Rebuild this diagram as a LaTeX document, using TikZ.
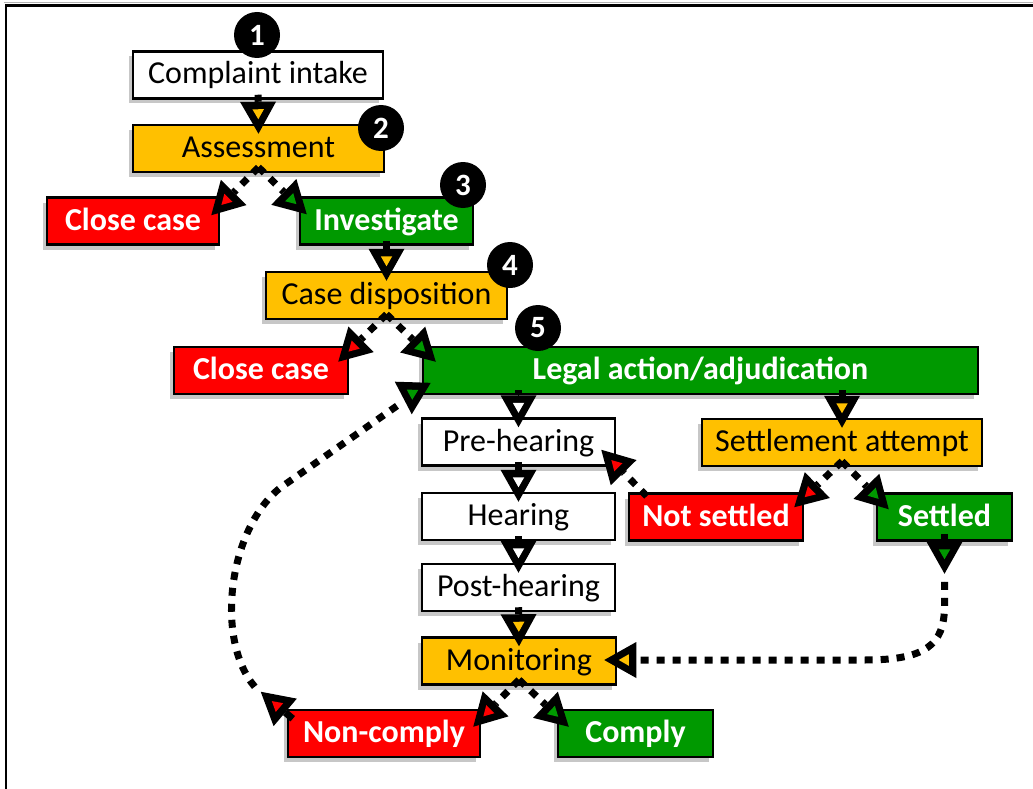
\documentclass[tikz,border=0pt]{standalone}
\usepackage{fontspec}
\setmainfont{Carlito}
\usetikzlibrary{arrows.meta,calc,shadows}
\definecolor{cyel}{HTML}{FFC000}
\definecolor{cred}{HTML}{FF0000}
\definecolor{cgrn}{HTML}{009900}
\begin{document}
\begin{tikzpicture}[x=1pt,y=-1pt,
  box/.style={draw=black, line width=2.5pt, inner sep=0pt, minimum height=47pt,
    text height=23pt, text depth=5pt, font=\fontsize{32}{36}\selectfont,
    drop shadow={shadow xshift=-4pt, shadow yshift=-5pt, fill=black!22, opacity=1}},
  wbox/.style={box, fill=white, text=black},
  ybox/.style={box, fill=cyel, text=black},
  rbox/.style={box, fill=cred, text=white, font=\fontsize{32}{36}\selectfont\bfseries},
  gbox/.style={box, fill=cgrn, text=white, font=\fontsize{32}{36}\selectfont\bfseries},
  numc/.style={circle, fill=black, minimum size=46pt, inner sep=0pt, text=white,
    font=\fontsize{31}{34}\selectfont\bfseries},
  con/.style={line width=7pt, draw=black},
  dots/.style={con, dash pattern=on 8pt off 8pt},
  tipin/.style={postaction={draw=black, line width=0.05pt,
      -{Triangle[length=10pt, width=11.5pt, line width=0pt, fill=#1]}, shorten >=14.5pt}},
  sarr/.style={con, -{Triangle[length=32pt, width=36pt, line width=0pt, fill=black]}, tipin=#1},
  darr/.style={dots, -{Triangle[length=32pt, width=36pt, line width=0pt, fill=black]}, tipin=#1},
]
\useasboundingbox (0,0) rectangle (1033,789);
\clip (0,0) rectangle (1033,789);
% frame
\draw[black!30, line width=1.2pt] (3.5,2.5) -- (1040,2.5);
\draw[black, line width=2.2pt] (6,800) -- (6,5.5) -- (1040,5.5);

% boxes
\node[wbox, minimum width=250pt] (intake) at (258,75) {Complaint intake};
\node[ybox, minimum width=251pt] (assess) at (258.5,148.5) {Assessment};
\node[rbox, minimum width=172pt] (close1) at (133,221) {Close case};
\node[gbox, minimum width=173pt] (invest) at (386.5,221) {Investigate};
\node[ybox, minimum width=241pt] (dispo) at (386.5,295.5) {Case disposition};
\node[rbox, minimum width=174pt] (close2) at (261,370.5) {Close case};
\node[gbox, minimum width=555pt] (legal) at (700.5,370.5) {Legal action/adjudication};
\node[wbox, minimum width=193pt] (pre) at (518.5,442) {Pre-hearing};
\node[wbox, minimum width=193pt] (hear) at (518.5,516.5) {Hearing};
\node[wbox, minimum width=193pt] (post) at (518.5,587.5) {Post-hearing};
\node[ybox, minimum width=194pt] (mon) at (519,661) {Monitoring};
\node[rbox, minimum width=192pt] (noncomply) at (384,733.5) {Non-comply};
\node[gbox, minimum width=155pt] (comply) at (635.5,733.5) {Comply};
\node[ybox, minimum width=280pt] (settle) at (842,442.5) {Settlement attempt};
\node[rbox, minimum width=174pt] (notset) at (716,517) {Not settled};
\node[gbox, minimum width=135pt] (settled) at (944.5,517) {Settled};

% connectors
\draw[sarr=cyel] ($(intake.south)+(0,-5)$) -- ($(assess.north)+(0,10)$);
\draw[darr=cred] ($(assess.south)+(0,-6)$) -- ($(close1.north east)+(-9,19)$);
\draw[darr=cgrn] ($(assess.south)+(0,-6)$) -- ($(invest.north west)+(8,18)$);
\draw[sarr=cyel] ($(invest.south)+(0,-5)$) -- ($(dispo.north)+(0,10)$);
\draw[darr=cred] ($(dispo.south)+(0,-6)$) -- ($(close2.north east)+(-11,16)$);
\draw[darr=cgrn] ($(dispo.south)+(0,-6)$) -- ($(legal.north west)+(14,16)$);
\draw[sarr=white] ($(legal.south -| pre.north)+(0,-5)$) -- ($(pre.north)+(0,10)$);
\draw[sarr=cyel] ($(legal.south -| settle.north)+(0,-5)$) -- ($(settle.north)+(0,10)$);
\draw[sarr=white] ($(pre.south)+(0,-5)$) -- ($(hear.north)+(0,10)$);
\draw[sarr=white] ($(hear.south)+(0,-5)$) -- ($(post.north)+(0,10)$);
\draw[sarr=cyel] ($(post.south)+(0,-5)$) -- ($(mon.north)+(0,10)$);
\draw[darr=cred] ($(settle.south)+(0,-6)$) -- ($(notset.north east)+(-10,15)$);
\draw[darr=cgrn] ($(settle.south)+(0,-6)$) -- ($(settled.north west)+(13,17)$);
\draw[darr=cred] ($(notset.north west)+(19,4)$) -- ($(pre.south east)+(-15,-17)$);
\draw[darr=cred] ($(mon.south)+(0,-6)$) -- ($(noncomply.north east)+(-8,18)$);
\draw[darr=cgrn] ($(mon.south)+(0,-6)$) -- ($(comply.north west)+(12,18)$);

% settled -> monitoring
\coordinate (s1) at ($(settled.south)+(0,32)$);
\draw[darr=cyel] ($(s1)+(0,8)$) -- ($(s1)+(0,32)$)
  .. controls ($(s1)+(0,72)$) and ($(s1 |- mon.east)+(-20,-1)$) .. ($(s1 |- mon.east)+(-80,-1)$)
  -- ($(mon.east)+(-13,-1)$);
\draw[sarr=cgrn] ($(settled.south)+(0,-8)$) -- (s1);

% non-comply -> legal
\coordinate (n1) at ($(noncomply.north west)+(-26,-17)$);
\coordinate (l1) at ($(legal.south west)+(-10,19)$);
\draw[dots] ($(n1)+(-6,-5)$) .. controls (215,640) and (228,530) .. (280,488) -- ($(l1)+(-11,-11)$);
\draw[sarr=cred] ($(noncomply.north west)+(6,10)$) -- (n1);
\draw[sarr=cgrn] ($(legal.south west)+(-9,-13)$) -- (l1);

% numbers
\node[numc] (c1) at (257,35) {1};
\node[numc] (c2) at (381,128) {2};
\node[numc] (c3) at (463,185) {3};
\node[numc] (c4) at (510,265) {4};
\node[numc] (c5) at (538,328) {5};
\end{tikzpicture}
\end{document}
